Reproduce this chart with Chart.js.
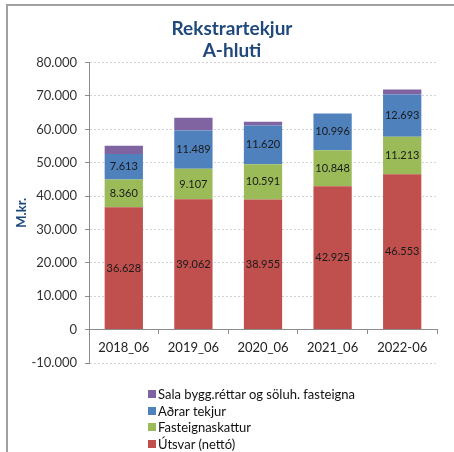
<!DOCTYPE html>
<html lang="is">
<head>
<meta charset="utf-8">
<title>Rekstrartekjur A-hluti</title>
<script src="https://cdn.jsdelivr.net/npm/chart.js@4.4.1/dist/chart.umd.min.js"></script>
<style>
  html, body { margin: 0; padding: 0; background: #fff; }
  #wrap { position: relative; width: 454px; height: 452px; overflow: hidden; }
  #frame {
    position: absolute; left: 6px; top: 4px; right: 0; bottom: 0;
    border-top: 2px solid #a0a0a0; border-left: 2px solid #a0a0a0;
  }
  #chart { position: absolute; left: 0; top: 0; }
  #legend { position: absolute; left: 148px; top: 386px; font: 13px Lato, sans-serif; color: #111; }
  #legend .item { height: 16.5px; display: flex; align-items: center; white-space: nowrap; }
  #legend .box { width: 8px; height: 8px; margin-right: 2px; }
</style>
</head>
<body>
<div id="wrap">
  <div id="frame"></div>
  <canvas id="chart" width="454" height="452"></canvas>
  <div id="legend"></div>
</div>
<script>
  const categories = ['2018_06', '2019_06', '2020_06', '2021_06', '2022-06'];
  const utsvar = [36628, 39062, 38955, 42925, 46553];
  const fasteignaskattur = [8360, 9107, 10591, 10848, 11213];
  const adrarTekjur = [7613, 11489, 11620, 10996, 12693];
  const salaByggrettar = [2500, 3800, 1100, 0, 1500];

  const seriesNames = ['Útsvar (nettó)', 'Fasteignaskattur', 'Aðrar tekjur', 'Sala bygg.réttar og söluh. fasteigna'];
  const seriesColors = ['#C0504D', '#9BBB59', '#4F81BD', '#8064A2'];

  const yMin = -10000;
  const yMax = 80000;
  const yStep = 10000;

  // 36628 -> "36.628"
  function fmt(v) {
    const s = Math.abs(v).toString().replace(/\B(?=(\d{3})+(?!\d))/g, '.');
    return v < 0 ? '-' + s : s;
  }

  Chart.defaults.font.family = 'Lato, sans-serif';

  // values written in the middle of each segment (not for the top series)
  const segmentLabels = {
    id: 'segmentLabels',
    afterDatasetsDraw(chart) {
      const ctx = chart.ctx;
      ctx.save();
      ctx.font = '11px Lato, sans-serif';
      ctx.fillStyle = '#1a1a1a';
      ctx.textAlign = 'center';
      ctx.textBaseline = 'middle';
      chart.data.datasets.forEach((ds, i) => {
        if (!ds.showValues) return;
        chart.getDatasetMeta(i).data.forEach((bar, j) => {
          const p = bar.getCenterPoint();
          ctx.fillText(fmt(ds.data[j]), p.x, p.y);
        });
      });
      ctx.restore();
    }
  };

  const allSeries = [utsvar, fasteignaskattur, adrarTekjur, salaByggrettar];
  const datasets = allSeries.map((values, i) => ({
    label: seriesNames[i],
    data: values,
    backgroundColor: seriesColors[i],
    borderWidth: 0,
    categoryPercentage: 1,
    barPercentage: 0.55,
    showValues: i < 3
  }));

  new Chart(document.getElementById('chart'), {
    type: 'bar',
    data: { labels: categories, datasets: datasets },
    options: {
      responsive: false,
      animation: false,
      layout: { padding: { top: 5, left: 27, right: 17, bottom: 89 } },
      plugins: {
        legend: { display: false },
        tooltip: { enabled: false },
        title: {
          display: true,
          text: ['Rekstrartekjur', 'A-hluti'],
          color: '#1F497D',
          font: { size: 19, weight: 'bold', lineHeight: 1.2 },
          padding: { top: 12, bottom: 0 }
        }
      },
      scales: {
        x: {
          stacked: true,
          position: { y: 0 },
          grid: { drawOnChartArea: false, tickLength: 4, color: '#8c8c8c' },
          border: { color: '#8c8c8c' },
          ticks: { color: '#222', font: { size: 13 }, padding: 6, maxRotation: 0 }
        },
        y: {
          stacked: true,
          min: yMin,
          max: yMax,
          ticks: { stepSize: yStep, padding: 8, color: '#333', font: { size: 13 }, callback: v => fmt(v) },
          grid: { color: '#d2d2d2', tickLength: 4, tickColor: '#8c8c8c' },
          border: { color: '#8c8c8c', dash: [2, 2] },
          title: {
            display: true,
            text: 'M.kr.',
            color: '#1F497D',
            font: { size: 13, weight: 'bold' },
            padding: { top: -13, bottom: 0 }
          },
          afterFit(scale) { scale.width = 62; }
        }
      }
    },
    plugins: [segmentLabels]
  });

  // legend, top series first
  const legend = document.getElementById('legend');
  for (let i = seriesNames.length - 1; i >= 0; i--) {
    const item = document.createElement('div');
    item.className = 'item';
    const box = document.createElement('span');
    box.className = 'box';
    box.style.background = seriesColors[i];
    const txt = document.createElement('span');
    txt.textContent = seriesNames[i];
    item.appendChild(box);
    item.appendChild(txt);
    legend.appendChild(item);
  }
</script>
</body>
</html>
